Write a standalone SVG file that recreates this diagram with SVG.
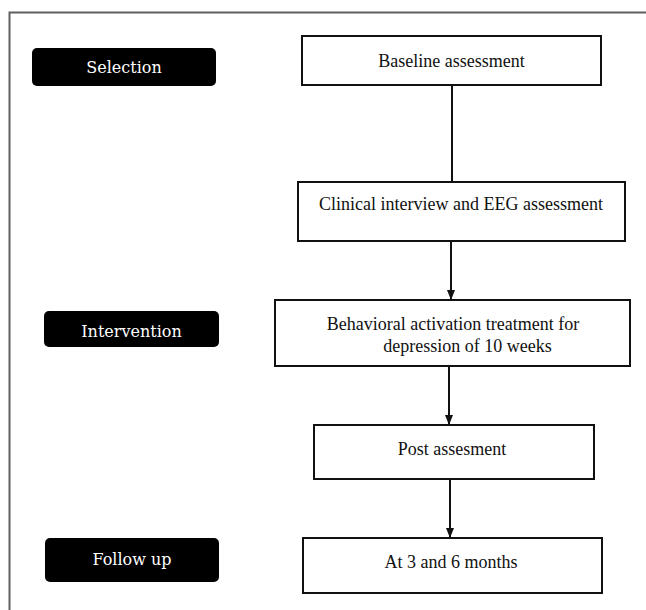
<svg xmlns="http://www.w3.org/2000/svg" width="646" height="610" viewBox="0 0 646 610">
<style>
.box{fill:#fff;stroke:#111;stroke-width:2}
.lab{fill:#000;stroke:none}
.bt{font-family:"Liberation Serif","Times New Roman",serif;font-size:18px;fill:#111;text-anchor:middle}
.lt{font-family:"DejaVu Serif","Liberation Serif",serif;font-size:16px;fill:#fff;text-anchor:middle}
.ln{stroke:#111;stroke-width:2;fill:none}
</style>
<defs>
<marker id="ah" markerWidth="10" markerHeight="10" viewBox="0 0 10 10" refX="10" refY="5" orient="auto" markerUnits="userSpaceOnUse">
<path d="M0,1 L10,5 L0,9 Z" fill="#111"/>
</marker>
</defs>
<rect width="646" height="610" fill="#fff"/>
<path d="M9.5,610 V12.5 H646" fill="none" stroke="#606060" stroke-width="2"/>
<g id="connectors">
<line class="ln" x1="452" y1="85" x2="452" y2="182"/>
<line class="ln" x1="451" y1="241" x2="451" y2="300" marker-end="url(#ah)"/>
<line class="ln" x1="449" y1="366" x2="449" y2="425" marker-end="url(#ah)"/>
<line class="ln" x1="450" y1="479" x2="450" y2="538" marker-end="url(#ah)"/>
</g>
<g id="selection">
<rect class="lab" x="32" y="48" width="184" height="38" rx="5"/>
<text class="lt" x="124" y="73">Selection</text>
</g>
<g id="intervention">
<rect class="lab" x="44" y="311" width="175" height="36" rx="5"/>
<text class="lt" x="131.5" y="337">Intervention</text>
</g>
<g id="followup">
<rect class="lab" x="45" y="538" width="174" height="44" rx="5"/>
<text class="lt" x="132" y="565">Follow up</text>
</g>
<g id="baseline">
<rect class="box" x="302" y="36" width="299" height="49"/>
<text class="bt" x="451.5" y="67">Baseline assessment</text>
</g>
<g id="clinical">
<rect class="box" x="298" y="182" width="327" height="59"/>
<text class="bt" x="461" y="210">Clinical  interview and EEG assessment</text>
</g>
<g id="behavioral">
<rect class="box" x="275" y="300" width="355" height="66"/>
<text class="bt" x="453" y="330">Behavioral activation treatment for</text>
<text class="bt" x="467.5" y="352">depression of 10 weeks</text>
</g>
<g id="post">
<rect class="box" x="314" y="425" width="280" height="54"/>
<text class="bt" x="452" y="455">Post assesment</text>
</g>
<g id="followupbox">
<rect class="box" x="303" y="538" width="299" height="55"/>
<text class="bt" x="451" y="568">At 3 and 6 months</text>
</g>
</svg>
